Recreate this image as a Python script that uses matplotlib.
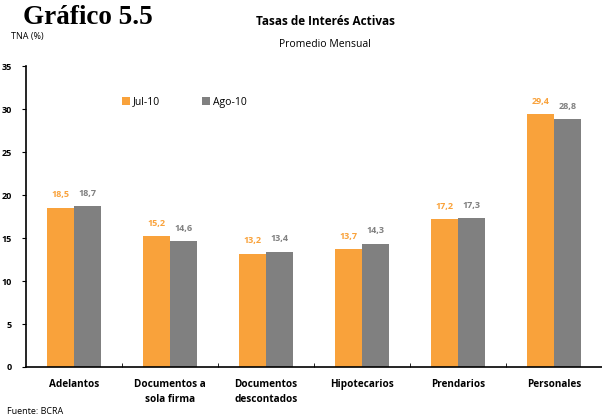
import numpy as np
import matplotlib.pyplot as plt

categorias = ['Adelantos', 'Documentos a\nsola firma', 'Documentos\ndescontados',
              'Hipotecarios', 'Prendarios', 'Personales']
jul_10 = [18.5, 15.2, 13.2, 13.7, 17.2, 29.4]
ago_10 = [18.7, 14.6, 13.4, 14.3, 17.3, 28.8]
y_ticks = [0, 5, 10, 15, 20, 25, 30, 35]

naranja = '#F9A23B'
gris = '#808080'
fuente = 'Open Sans'

fig = plt.figure(figsize=(6.02, 4.15), dpi=100)
ax = fig.add_axes([0.043, 0.1157, 0.957, 0.725])

x = np.arange(len(categorias))
w = 0.285
ax.bar(x - w / 2, jul_10, w, color=naranja, label='Jul-10')
ax.bar(x + w / 2, ago_10, w, color=gris, label='Ago-10')

for xi, v in zip(x, jul_10):
    ax.text(xi - w / 2, v + 1.0, f'{v:.1f}'.replace('.', ','), ha='center', va='bottom',
            fontsize=6.5, fontweight='bold', color=naranja, family=fuente)
for xi, v in zip(x, ago_10):
    ax.text(xi + w / 2, v + 1.0, f'{v:.1f}'.replace('.', ','), ha='center', va='bottom',
            fontsize=6.5, fontweight='bold', color=gris, family=fuente)

ax.set_xlim(-0.5, len(categorias) - 0.5)
ax.set_ylim(0, 35)
ax.set_yticks(y_ticks)
ax.set_yticklabels([str(t) for t in y_ticks], fontsize=6.5, fontweight='bold', family=fuente)
ax.set_xticks(x)
ax.set_xticklabels(categorias, fontsize=7.2, fontweight='bold', family=fuente, linespacing=1.5)
ax.tick_params(axis='x', length=0, pad=9)
ax.set_xticks(np.arange(0.5, len(categorias) - 0.5), minor=True)
ax.tick_params(axis='x', which='minor', length=3, direction='in')
ax.tick_params(axis='y', length=3, direction='out', pad=7)
for s in ['top', 'right']:
    ax.spines[s].set_visible(False)
ax.spines['left'].set_linewidth(1.2)
ax.spines['bottom'].set_linewidth(1.2)

leg = ax.legend(loc='upper left', bbox_to_anchor=(0.15, 0.93), ncol=2, frameon=False,
                handlelength=0.8, handleheight=0.8, handletextpad=0.3, columnspacing=4.0,
                prop={'family': fuente, 'size': 7.5})

fig.text(0.038, 0.942, 'Gráfico 5.5', family='Liberation Serif', fontweight='bold', fontsize=19.5)
fig.text(0.54, 0.94, 'Tasas de Interés Activas', ha='center', family=fuente,
         fontweight='bold', fontsize=8.5)
fig.text(0.54, 0.887, 'Promedio Mensual', ha='center', family=fuente, fontsize=7.5)
fig.text(0.018, 0.905, 'TNA (%)', family=fuente, fontsize=6.5)
fig.text(0.012, 0.002, 'Fuente: BCRA', family=fuente, fontsize=6.5)

fig.savefig('out.png', dpi=100)
